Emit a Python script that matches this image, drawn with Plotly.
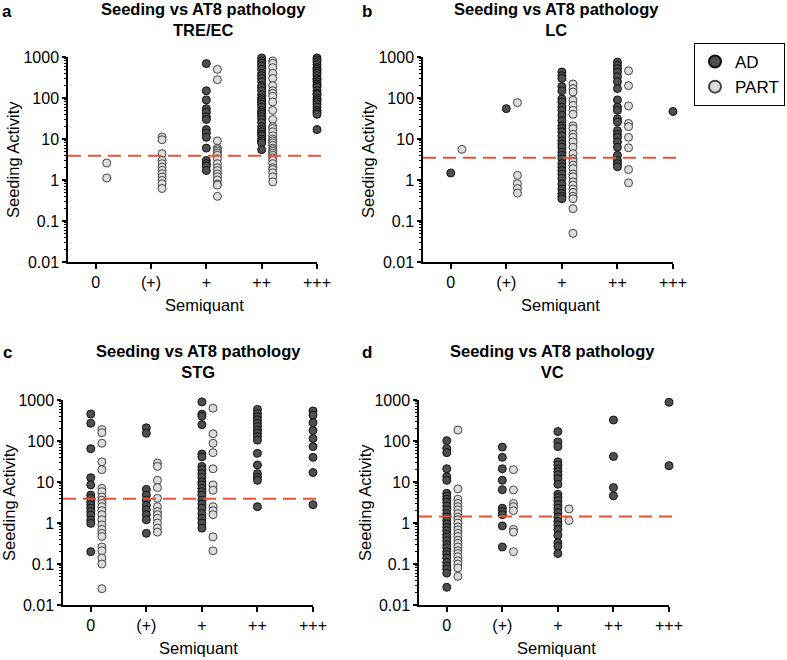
import plotly.graph_objects as go

CATEGORIES = ["0", "(+)", "+", "++", "+++"]
TITLES = ["Seeding vs AT8 pathology<br>TRE/EC", "Seeding vs AT8 pathology<br>LC",
          "Seeding vs AT8 pathology<br>STG", "Seeding vs AT8 pathology<br>VC"]
PANEL_LETTERS = ["a", "b", "c", "d"]
X_TITLE = "Semiquant"
Y_TITLE = "Seeding Activity"
Y_TICKS = [0.01, 0.1, 1, 10, 100, 1000]
Y_TICK_TEXT = ["0.01", "0.1", "1", "10", "100", "1000"]

# ---- Panel a: TRE/EC ----
tre_ad = [
    [],
    [],
    [690, 150, 90, 55, 45, 35, 30, 17, 14, 11, 6, 3, 2.5, 2.2, 1.7],
    [950, 800, 700, 600, 500, 400, 350, 300, 250, 200, 180, 150, 120, 100, 90, 80, 70,
     60, 50, 45, 40, 35, 30, 25, 20, 17, 15, 13, 12, 10, 9, 8, 5.5],
    [950, 850, 750, 650, 550, 500, 450, 400, 350, 300, 280, 250, 220, 200, 180, 150,
     130, 120, 100, 90, 80, 70, 60, 50, 45, 40, 17],
]
tre_part = [
    [2.6, 1.12],
    [11.2, 9.6, 4.4, 3.0, 2.5, 2.07, 1.72, 1.43, 1.18, 0.98, 0.81, 0.62],
    [500, 280, 9, 6, 5.5, 5, 4.5, 4, 3.3, 2.5, 2, 1.7, 1.4, 1.2, 1.0, 0.8, 0.75, 0.4],
    [800, 700, 550, 400, 300, 200, 150, 130, 110, 80, 50, 30, 20, 18, 15, 12, 10, 9, 8,
     7, 6, 5.5, 5, 4.5, 4, 3.5, 3, 2.5, 2, 1.8, 1.5, 1.2, 0.9],
    [],
]
tre_threshold = 3.9

# ---- Panel b: LC ----
lc_ad = [
    [1.48],
    [55],
    [430, 350, 300, 190, 150, 95, 80, 60, 50, 38, 28, 21, 18, 15, 12, 9, 7.5, 6.3, 4.8,
     4, 3.3, 2.5, 2.1, 1.7, 1.4, 1.1, 0.8, 0.6, 0.47, 0.4, 0.35],
    [750, 630, 520, 430, 330, 250, 170, 90, 60, 50, 31, 26, 16, 13, 11, 8.5, 6.3, 4, 3,
     2.5, 2.1],
    [47],
]
lc_part = [
    [5.6],
    [77, 1.3, 0.81, 0.62, 0.48],
    [220, 170, 140, 88, 66, 50, 40, 21, 18, 13, 11, 8.5, 6.3, 4.4, 3.3, 2.8, 2.3, 1.9,
     1.4, 1.2, 0.9, 0.75, 0.6, 0.5, 0.4, 0.35, 0.2, 0.05],
    [460, 200, 64, 24, 20, 11, 6.1, 1.8, 0.85],
    [],
]
lc_threshold = 3.5

# ---- Panel c: STG ----
stg_ad = [
    [455, 270, 65, 12.7, 8.5, 4.8, 4.0, 3.3, 2.75, 2.3, 1.9, 1.57, 1.18, 0.98, 0.2],
    [210, 155, 6.6, 4.8, 3.6, 2.7, 2.1, 1.6, 1.2, 0.56],
    [900, 450, 400, 250, 48, 41, 24, 20, 16, 13, 10, 8.5, 7, 5.8, 4.8, 3.6, 2.9, 2.3,
     1.7, 1.3, 1.0, 0.75],
    [590, 470, 390, 330, 270, 225, 185, 155, 128, 105, 50, 26, 16, 13, 11, 2.5],
    [540, 430, 280, 180, 115, 73, 40, 17, 2.8],
]
stg_part = [
    [190, 160, 88, 31, 20, 7, 5.8, 4.3, 3.6, 3, 2.5, 2, 1.6, 1.2, 0.9, 0.7, 0.56, 0.47,
     0.26, 0.21, 0.14, 0.1, 0.025],
    [29, 24, 11, 7.3, 4, 2.5, 1.9, 1.6, 1.3, 1.0, 0.75, 0.6],
    [630, 150, 88, 52, 21, 8.5, 6.3, 2.5, 2, 1.6, 0.46, 0.21],
    [],
    [],
]
stg_threshold = 3.9

# ---- Panel d: VC ----
vc_ad = [
    [102, 66, 52, 21, 13.5, 11, 5.3, 4.5, 3.8, 3.2, 2.6, 2.1, 1.7, 1.4, 1.15, 0.95, 0.78,
     0.65, 0.53, 0.45, 0.37, 0.3, 0.25, 0.2, 0.17, 0.14, 0.11, 0.09, 0.075, 0.06, 0.027],
    [71, 40, 21, 11, 6.5, 2.3, 1.9, 1.6, 0.85, 0.26],
    [170, 95, 73, 31, 26, 21, 18, 15, 12, 8.8, 5, 4.2, 3.5, 2.8, 2.3, 1.8, 1.4, 1.1, 0.9,
     0.7, 0.5, 0.33, 0.27, 0.18],
    [325, 42, 7.3, 4.6],
    [880, 25],
]
vc_part = [
    [185, 6.8, 3.8, 3.0, 2.5, 2.1, 1.7, 1.4, 1.2, 1.0, 0.8, 0.68, 0.56, 0.47, 0.38, 0.32,
     0.26, 0.21, 0.18, 0.15, 0.12, 0.1, 0.08, 0.05],
    [20, 6.4, 3, 2.5, 2, 0.7, 0.6, 0.2],
    [2.2, 1.15],
    [],
    [],
]
vc_threshold = 1.45

# ---------------- styling / layout ----------------
W, H = 787, 660
FONT = "Liberation Sans, Arial, Helvetica, sans-serif"
AD_FILL, AD_LINE = "#4f4f4f", "#111111"
PART_FILL, PART_LINE = "#dcdcdc", "#444444"
PART_OFFSET = 0.2
RED = "#e5533d"

# (ad, part, threshold, x-axis px span, y-axis px span, title pos, letter pos,
#  x-title pos, y-title pos)
panels = [
    (tre_ad, tre_part, tre_threshold, (68, 317), (57, 262), (203, 19), (7, 11),
     (204, 305), (13, 160)),
    (lc_ad, lc_part, lc_threshold, (423, 673), (57, 262), (556, 19), (367, 11),
     (560, 305), (368, 160)),
    (stg_ad, stg_part, stg_threshold, (63, 313), (400, 605), (198, 361), (7, 352),
     (198, 648), (9, 503)),
    (vc_ad, vc_part, vc_threshold, (419, 669), (400, 605), (552, 361), (367, 352),
     (556, 648), (365, 503)),
]

fig = go.Figure()
layout_axes = {}
shapes = []
annotations = []


def ann(text, px, py, size, angle=0):
    return dict(text=text, xref="paper", yref="paper", x=px / W, y=1 - py / H,
                xanchor="center", yanchor="middle", showarrow=False, textangle=angle,
                font=dict(size=size, color="black", family=FONT))


for i, (ad, part, thr, xpx, ypx, tpos, lpos, xtpos, ytpos) in enumerate(panels):
    n = "" if i == 0 else str(i + 1)
    xa, ya = "x" + n, "y" + n
    ad_x = [c for c, vals in enumerate(ad) for _ in vals]
    ad_y = [v for vals in ad for v in vals]
    part_x = [c + PART_OFFSET for c, vals in enumerate(part) for _ in vals]
    part_y = [v for vals in part for v in vals]
    fig.add_trace(go.Scatter(
        x=ad_x, y=ad_y, mode="markers", name="AD", xaxis=xa, yaxis=ya,
        showlegend=(i == 0), legendgroup="AD",
        marker=dict(size=8, color=AD_FILL, line=dict(color=AD_LINE, width=1)),
        cliponaxis=False))
    fig.add_trace(go.Scatter(
        x=part_x, y=part_y, mode="markers", name="PART", xaxis=xa, yaxis=ya,
        showlegend=(i == 0), legendgroup="PART",
        marker=dict(size=8, color=PART_FILL, line=dict(color=PART_LINE, width=1)),
        cliponaxis=False))

    xdom = [xpx[0] / W, xpx[1] / W]
    ydom = [1 - ypx[1] / H, 1 - ypx[0] / H]
    layout_axes["xaxis" + n] = dict(
        domain=xdom, anchor=ya, range=[-0.5, 4], tickmode="array",
        tickvals=list(range(len(CATEGORIES))), ticktext=CATEGORIES,
        showline=True, linecolor="black", linewidth=1.5, ticks="outside",
        ticklen=5, tickwidth=1.5, tickcolor="black", showgrid=False, zeroline=False,
        automargin=False, tickfont=dict(size=16, color="black", family=FONT))
    layout_axes["yaxis" + n] = dict(
        domain=ydom, anchor=xa, type="log", range=[-2, 3], tickmode="array",
        tickvals=Y_TICKS, ticktext=Y_TICK_TEXT,
        showline=True, linecolor="black", linewidth=1.5, ticks="outside",
        ticklen=4, tickwidth=1.5, tickcolor="black", showgrid=False, zeroline=False,
        automargin=False, tickfont=dict(size=16, color="black", family=FONT),
        minor=dict(ticks="outside", ticklen=2.5, tickwidth=1, tickcolor="black",
                   dtick="D1", showgrid=False))

    shapes.append(dict(type="line", xref=xa + " domain", yref=ya, x0=0, x1=1.032,
                       y0=thr, y1=thr, line=dict(color=RED, width=2, dash="13px,7px")))
    annotations.append(ann("<b>" + TITLES[i] + "</b>", tpos[0], tpos[1], 16.5))
    annotations.append(ann("<b>" + PANEL_LETTERS[i] + "</b>", lpos[0], lpos[1], 17))
    annotations.append(ann(X_TITLE, xtpos[0], xtpos[1], 16.5))
    annotations.append(ann(Y_TITLE, ytpos[0], ytpos[1], 16.5, angle=-90))

fig.update_layout(
    width=W, height=H, margin=dict(l=0, r=0, t=0, b=0, autoexpand=False),
    paper_bgcolor="white", plot_bgcolor="white",
    font=dict(family=FONT, color="black"),
    showlegend=True,
    legend=dict(x=785 / W, y=1 - 43 / H, xanchor="right", yanchor="top",
                bordercolor="black", borderwidth=1, bgcolor="white",
                font=dict(size=17, color="black", family=FONT),
                itemsizing="constant", tracegroupgap=0),
    shapes=shapes, annotations=annotations,
    **layout_axes,
)

fig.write_html("out.html", config={"displayModeBar": False},
               post_script="document.body.style.margin='0';document.body.style.padding='0';")
